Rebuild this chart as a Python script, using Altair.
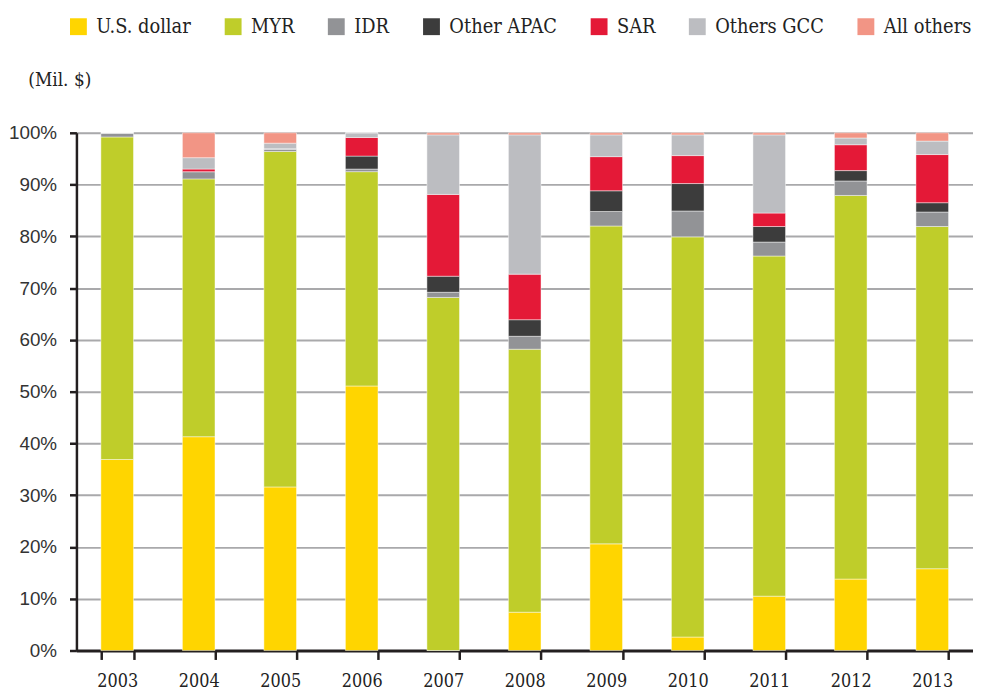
import altair as alt
import pandas as pd

years = ["2003", "2004", "2005", "2006", "2007", "2008", "2009", "2010", "2011", "2012", "2013"]
series = ["U.S. dollar", "MYR", "IDR", "Other APAC", "SAR", "Others GCC", "All others"]
colors = ["#FFD500", "#BFCD2A", "#929396", "#3C3C3C", "#E41937", "#BCBDC1", "#F29585"]

usd = [36.9, 41.3, 31.6, 51.1, 0.0, 7.4, 20.6, 2.6, 10.5, 13.8, 15.8]
myr = [62.3, 49.8, 64.8, 41.4, 68.2, 50.8, 61.4, 77.3, 65.7, 74.1, 66.1]
idr = [0.8, 1.4, 0.5, 0.5, 1.0, 2.5, 2.8, 5.0, 2.7, 2.8, 2.8]
other_apac = [0.0, 0.0, 0.0, 2.5, 3.1, 3.2, 4.0, 5.3, 3.0, 2.0, 1.8]
sar = [0.0, 0.5, 0.0, 3.6, 15.8, 8.8, 6.6, 5.4, 2.6, 5.0, 9.3]
others_gcc = [0.0, 2.2, 1.1, 0.9, 11.5, 26.9, 4.2, 4.0, 15.1, 1.3, 2.6]
all_others = [0.0, 4.8, 2.0, 0.0, 0.4, 0.4, 0.4, 0.4, 0.4, 1.0, 1.6]

y_ticks = [0, 10, 20, 30, 40, 50, 60, 70, 80, 90, 100]

values = [usd, myr, idr, other_apac, sar, others_gcc, all_others]
rows = []
for i, (name, vals) in enumerate(zip(series, values)):
    for year, v in zip(years, vals):
        rows.append({"year": year, "series": name, "idx": i, "value": v})
df = pd.DataFrame(rows)

serif = "DejaVu Serif Condensed"
sans = "Liberation Sans"

chart = alt.Chart(df).mark_bar(
    stroke="#ffffff", strokeWidth=1, strokeOpacity=0.45
).encode(
    x=alt.X(
        "year:O",
        sort=years,
        scale=alt.Scale(paddingInner=0.6, paddingOuter=0.3),
        axis=alt.Axis(
            title=None,
            labelAngle=0,
            tickBand="extent",
            labelFont=serif,
            labelFontSize=18,
            labelColor="#222222",
            labelPadding=13,
            tickSize=9,
            tickWidth=2.5,
            tickColor="#231F20",
            domainColor="#231F20",
            domainWidth=3,
            grid=False,
        ),
    ),
    y=alt.Y(
        "value:Q",
        stack="zero",
        scale=alt.Scale(domain=[0, 100], nice=False),
        axis=alt.Axis(
            values=y_ticks,
            labelExpr="datum.value + '%'",
            labelFont=sans,
            labelFontSize=19,
            labelColor="#333333",
            labelPadding=13,
            tickSize=7,
            tickWidth=2.5,
            tickColor="#231F20",
            domainColor="#231F20",
            domainWidth=2.5,
            grid=True,
            gridColor="#A9A9AB",
            gridWidth=2,
            title="(Mil. $)",
            titleAngle=0,
            titleAlign="left",
            titleBaseline="middle",
            titleX=-49,
            titleY=-54,
            titleFont=serif,
            titleFontSize=19,
            titleFontWeight="normal",
            titleColor="#222222",
        ),
    ),
    color=alt.Color(
        "series:N",
        scale=alt.Scale(domain=series, range=colors),
        legend=alt.Legend(
            title=None,
            orient="none",
            direction="horizontal",
            legendX=-8,
            legendY=-117,
            symbolType="square",
            symbolSize=289,
            symbolStrokeWidth=0,
            symbolOpacity=1,
            labelFont=serif,
            labelFontSize=20,
            labelColor="#222222",
            labelOffset=8,
            columnPadding=32,
            padding=0,
        ),
    ),
    order=alt.Order("idx:Q", sort="ascending"),
).properties(
    width=904,
    height=522,
    autosize=alt.AutoSizeParams(type="none"),
    padding={"left": 69, "top": 123, "right": 0, "bottom": 42},
).configure_view(strokeWidth=0).configure(background="#ffffff")

chart.save("out.html", embed_options={"renderer": "svg", "actions": False})
